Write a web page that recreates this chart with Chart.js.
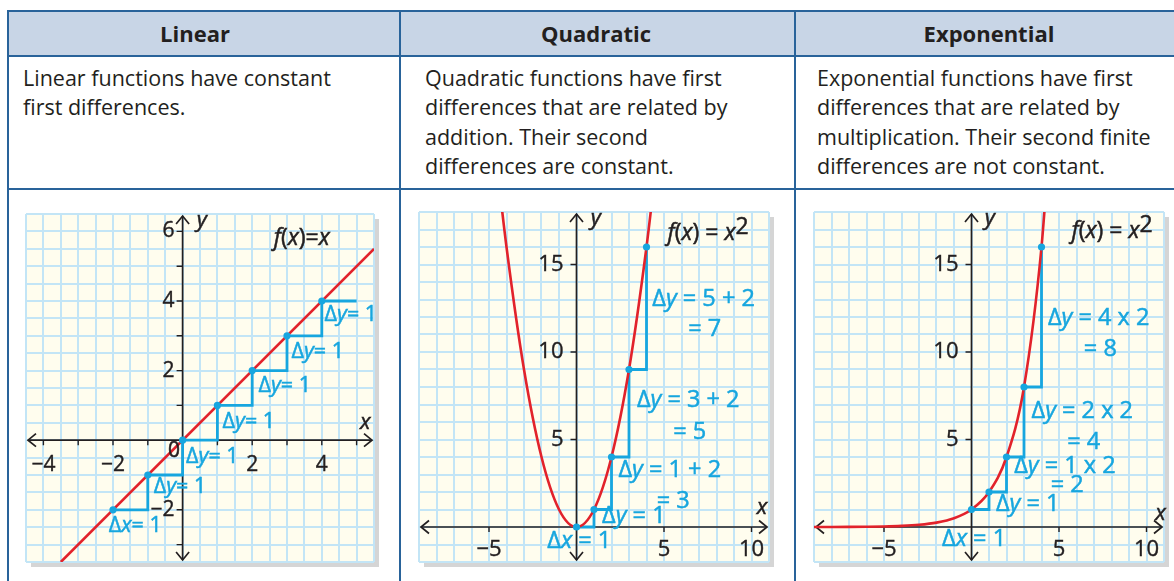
<!DOCTYPE html>
<html>
<head>
<meta charset="utf-8">
<script src="https://cdn.jsdelivr.net/npm/chart.js@4.4.1/dist/chart.umd.min.js"></script>
<style>
body { margin: 0; width: 1174px; height: 581px; overflow: hidden; background: #fff; position: relative;
       font-family: 'Open Sans', sans-serif; color: #231f20; }
.hl { position: absolute; left: 8px; width: 1180px; height: 2px; background: #29639a; }
.vl { position: absolute; top: 10px; width: 2px; height: 580px; background: #29639a; }
.head { position: absolute; top: 10px; left: 9px; width: 1180px; height: 46px; background: #c8d5e6; }
.tit { position: absolute; top: 18px; font-weight: 700; font-size: 22px; line-height: 30px; transform: translateX(-50%); white-space: nowrap; }
.desc { position: absolute; top: 63px; font-size: 21.5px; line-height: 29.4px; white-space: nowrap; }
canvas { position: absolute; }
</style>
</head>
<body>
<div class="head"></div>
<div class="hl" style="top:10px"></div>
<div class="hl" style="top:55px"></div>
<div class="hl" style="top:188px"></div>
<div class="vl" style="left:7px"></div>
<div class="vl" style="left:399px"></div>
<div class="vl" style="left:794px"></div>

<div class="tit" style="left:195px">Linear</div>
<div class="tit" style="left:596px">Quadratic</div>
<div class="tit" style="left:989px">Exponential</div>

<div class="desc" style="left:23px">Linear functions have constant<br>first differences.</div>
<div class="desc" style="left:425px">Quadratic functions have first<br>differences that are related by<br>addition. Their second<br>differences are constant.</div>
<div class="desc" style="left:817px">Exponential functions have first<br>differences that are related by<br>multiplication. Their second finite<br>differences are not constant.</div>

<canvas id="lineal" width="357" height="357" style="left:22px;top:210px"></canvas>
<canvas id="cuadratica" width="360" height="360" style="left:415px;top:208px"></canvas>
<canvas id="exponencial" width="360" height="360" style="left:810px;top:208px"></canvas>

<script>
// Datos: f(x) = x
const linX = [-3.5, 5.5];
const linY = [-3.5, 5.5];
const linStepX = [-2, -1, -1, 0, 0, 1, 1, 2, 2, 3, 3, 4, 4, 5];
const linStepY = [-2, -2, -1, -1, 0, 0, 1, 1, 2, 2, 3, 3, 4, 4];
const linDotX = [-2, -1, 0, 1, 2, 3, 4];
const linDotY = [-2, -1, 0, 1, 2, 3, 4];
const linXMarks = [-4, -3, -2, -1, 1, 2, 3, 4, 5];
const linYMarks = [-3, -2, -1, 1, 2, 3, 4, 5, 6];
const linXLabels = [-4, -2, 2, 4];
const linYLabels = [-2, 2, 4, 6];

// Datos: f(x) = x^2
const quadX = [-4.5, -4, -3, -2, -1, 0, 1, 2, 3, 4, 4.5];
const quadY = [20.25, 16, 9, 4, 1, 0, 1, 4, 9, 16, 20.25];
const quadStepX = [0, 1, 1, 2, 2, 3, 3, 4, 4];
const quadStepY = [0, 0, 1, 1, 4, 4, 9, 9, 16];
const quadDotX = [0, 1, 2, 3, 4];
const quadDotY = [0, 1, 4, 9, 16];

// Datos: curva exponencial
const expX = [-9, -8, -7, -6, -5, -4, -3, -2, -1, 0, 1, 2, 3, 4, 4.5];
const expY = [0.002, 0.004, 0.008, 0.016, 0.031, 0.063, 0.125, 0.25, 0.5, 1, 2, 4, 8, 16, 22.6];
const expStepX = [0, 1, 1, 2, 2, 3, 3, 4, 4];
const expStepY = [1, 1, 2, 2, 4, 4, 8, 8, 16];
const expDotX = [0, 1, 2, 3, 4];
const expDotY = [1, 2, 4, 8, 16];

// Marcas y etiquetas de los dos graficos grandes
const bigXMarks = [-5, 5, 10];
const bigYMarks = [5, 10, 15];
const bigXLabels = [-5, 5, 10];
const bigYLabels = [5, 10, 15];

const rojo = '#e2222b';
const azul = '#17a6df';
const tinta = '#231f20';
const fuente = '"Open Sans", sans-serif';

// Textos sobre el grafico: [texto, cursiva, desplazamiento vertical]
const D = ['\u0394', false];
const Y = ['y', true];
const X = ['x', true];
const fx = [['f', true], ['(', false], ['x', true], [')', false]];

const linNotes = [
  { x: 2.62, y: 5.8, size: 23, color: tinta, parts: [...fx, ['=', false], ['x', true]] },
  { x: 5.25, y: 0.5, size: 22, color: tinta, align: 'center', parts: [X] },
  { x: 0.55, y: 6.3, size: 22, color: tinta, align: 'center', parts: [Y] },
  { x: -0.25, y: -0.3, size: 21, color: tinta, align: 'center', parts: [['0', false]] },
  { x: 4.08, y: 3.6, size: 21.5, color: azul, parts: [D, Y, ['= 1', false]] },
  { x: 3.13, y: 2.55, size: 21.5, color: azul, parts: [D, Y, ['= 1', false]] },
  { x: 2.18, y: 1.57, size: 21.5, color: azul, parts: [D, Y, ['= 1', false]] },
  { x: 1.15, y: 0.52, size: 21.5, color: azul, parts: [D, Y, ['= 1', false]] },
  { x: 0.1, y: -0.48, size: 21.5, color: azul, parts: [D, Y, ['= 1', false]] },
  { x: -0.83, y: -1.35, size: 21.5, color: azul, parts: [D, Y, ['= 1', false]] },
  { x: -2.12, y: -2.45, size: 21.5, color: azul, parts: [D, X, ['= 1', false]] }
];

const quadNotes = [
  { x: 5.2, y: 16.8, size: 23, color: tinta, parts: [...fx, [' = ', false], ['x', true], ['2', false, -6]] },
  { x: 10.6, y: 1.1, size: 22, color: tinta, align: 'center', parts: [X] },
  { x: 1.1, y: 17.6, size: 22, color: tinta, align: 'center', parts: [Y] },
  { x: 4.33, y: 13.0, size: 23.5, color: azul, parts: [D, Y, [' = 5 + 2', false]] },
  { x: 6.38, y: 11.3, size: 23.5, color: azul, parts: [['= 7', false]] },
  { x: 3.45, y: 7.23, size: 23.5, color: azul, parts: [D, Y, [' = 3 + 2', false]] },
  { x: 5.53, y: 5.43, size: 23.5, color: azul, parts: [['= 5', false]] },
  { x: 2.4, y: 3.26, size: 23.5, color: azul, parts: [D, Y, [' = 1 + 2', false]] },
  { x: 4.58, y: 1.46, size: 23.5, color: azul, parts: [['= 3', false]] },
  { x: 1.46, y: 0.6, size: 23.5, color: azul, parts: [D, Y, [' = 1', false]] },
  { x: -1.67, y: -0.82, size: 23.5, color: azul, parts: [D, X, [' = 1', false]] }
];

const expNotes = [
  { x: 5.72, y: 16.9, size: 23, color: tinta, parts: [...fx, [' = ', false], ['x', true], ['2', false, -6]] },
  { x: 10.8, y: 0.74, size: 22, color: tinta, align: 'center', parts: [X] },
  { x: 1.04, y: 17.6, size: 22, color: tinta, align: 'center', parts: [Y] },
  { x: 4.37, y: 11.9, size: 23.5, color: azul, parts: [D, Y, [' = 4 x 2', false]] },
  { x: 6.42, y: 10.17, size: 23.5, color: azul, parts: [['= 8', false]] },
  { x: 3.43, y: 6.6, size: 23.5, color: azul, parts: [D, Y, [' = 2 x 2', false]] },
  { x: 5.47, y: 4.86, size: 23.5, color: azul, parts: [['= 4', false]] },
  { x: 2.44, y: 3.44, size: 23.5, color: azul, parts: [D, Y, [' = 1 x 2', false]] },
  { x: 4.53, y: 2.36, size: 23.5, color: azul, parts: [['= 2', false]] },
  { x: 1.4, y: 1.27, size: 23.5, color: azul, parts: [D, Y, [' = 1', false]] },
  { x: -1.68, y: -0.72, size: 23.5, color: azul, parts: [D, X, [' = 1', false]] }
];

// Configuracion de ejes de cada grafico (por id del canvas)
const ejes = {
  lineal: { xMarks: linXMarks, yMarks: linYMarks, xLabels: linXLabels, yLabels: linYLabels,
            size: 21, xGap: 25, yGap: 8, notes: linNotes },
  cuadratica: { xMarks: bigXMarks, yMarks: bigYMarks, xLabels: bigXLabels, yLabels: bigYLabels,
                size: 22, xGap: 23, yGap: 13, notes: quadNotes },
  exponencial: { xMarks: bigXMarks, yMarks: bigYMarks, xLabels: bigXLabels, yLabels: bigYLabels,
                 size: 22, xGap: 23, yGap: 13, notes: expNotes }
};

function etiqueta(v) {
  return v < 0 ? '\u2212' + Math.abs(v) : String(v);
}

// Texto con un trazo fino para que no quede tan delgado
function texto(ctx, t, x, y) {
  ctx.fillText(t, x, y);
  ctx.strokeText(t, x, y);
}

// Dibuja texto con partes en cursiva
function drawRich(ctx, parts, x, y, size, color, align) {
  const fonts = parts.map(p => (p[1] ? 'italic ' : '') + size + 'px ' + fuente);
  const widths = parts.map((p, i) => { ctx.font = fonts[i]; return ctx.measureText(p[0]).width; });
  const total = widths.reduce((a, b) => a + b, 0);
  let cx = align === 'center' ? x - total / 2 : x;
  ctx.fillStyle = color;
  ctx.strokeStyle = color;
  ctx.lineWidth = 0.5;
  ctx.textAlign = 'left';
  ctx.textBaseline = 'middle';
  parts.forEach((p, i) => {
    ctx.font = fonts[i];
    texto(ctx, p[0], cx, y + (p[2] || 0));
    cx += widths[i];
  });
}

function flecha(ctx, x, y, dx, dy) {
  const s = 8, w = 6.5;
  ctx.beginPath();
  ctx.moveTo(x - dx * s - dy * w, y - dy * s + dx * w);
  ctx.lineTo(x, y);
  ctx.lineTo(x - dx * s + dy * w, y - dy * s - dx * w);
  ctx.stroke();
}

const ejesPlugin = {
  id: 'ejes',
  beforeDraw(chart) {
    const { ctx, chartArea: a } = chart;
    ctx.save();
    ctx.fillStyle = '#d5d5d5';
    ctx.fillRect(a.left + 5, a.top + 5, a.right - a.left, a.bottom - a.top);
    ctx.fillStyle = '#fffdee';
    ctx.fillRect(a.left, a.top, a.right - a.left, a.bottom - a.top);
    ctx.restore();
  },
  beforeDatasetsDraw(chart) {
    const cfg = ejes[chart.canvas.id];
    const { ctx, chartArea: a } = chart;
    const sx = chart.scales.x, sy = chart.scales.y;
    const x0 = sx.getPixelForValue(0), y0 = sy.getPixelForValue(0);
    ctx.save();
    ctx.strokeStyle = tinta;
    ctx.lineWidth = 1.7;
    ctx.beginPath();
    ctx.moveTo(a.left + 2, y0); ctx.lineTo(a.right - 2, y0);
    ctx.moveTo(x0, a.top + 2); ctx.lineTo(x0, a.bottom - 2);
    ctx.stroke();
    flecha(ctx, a.left + 2, y0, -1, 0);
    flecha(ctx, a.right - 2, y0, 1, 0);
    flecha(ctx, x0, a.top + 2, 0, -1);
    flecha(ctx, x0, a.bottom - 2, 0, 1);
    ctx.lineWidth = 1.4;
    ctx.beginPath();
    cfg.xMarks.forEach(v => { const p = sx.getPixelForValue(v); ctx.moveTo(p, y0); ctx.lineTo(p, y0 + 5); });
    cfg.yMarks.forEach(v => { const p = sy.getPixelForValue(v); ctx.moveTo(x0, p); ctx.lineTo(x0 - 6, p); });
    ctx.stroke();
    ctx.fillStyle = tinta;
    ctx.lineWidth = 0.4;
    ctx.font = cfg.size + 'px ' + fuente;
    ctx.textBaseline = 'middle';
    ctx.textAlign = 'center';
    cfg.xLabels.forEach(v => texto(ctx, etiqueta(v), sx.getPixelForValue(v), y0 + cfg.xGap));
    ctx.textAlign = 'right';
    cfg.yLabels.forEach(v => texto(ctx, etiqueta(v), x0 - cfg.yGap, sy.getPixelForValue(v)));
    ctx.restore();
  },
  afterDatasetsDraw(chart) {
    const cfg = ejes[chart.canvas.id];
    const { ctx } = chart;
    const sx = chart.scales.x, sy = chart.scales.y;
    ctx.save();
    cfg.notes.forEach(n => {
      drawRich(ctx, n.parts, sx.getPixelForValue(n.x), sy.getPixelForValue(n.y), n.size, n.color, n.align);
    });
    ctx.restore();
  }
};
Chart.register(ejesPlugin);

function puntos(xs, ys) {
  return xs.map((x, i) => ({ x: x, y: ys[i] }));
}

function escala(min, max, step) {
  return {
    type: 'linear', min: min, max: max,
    ticks: { display: false, stepSize: step },
    grid: { color: '#c3e5f6', lineWidth: 2, drawTicks: false },
    border: { display: false }
  };
}

// Crea un grafico con curva, escalones y puntos
function crearGrafico(id, curva, escalones, marcas, xr, yr, step, suave, pad) {
  const ctx = document.getElementById(id).getContext('2d');
  return new Chart(ctx, {
    type: 'scatter',
    data: {
      datasets: [
        { data: marcas, showLine: false, pointRadius: 3.6, pointBackgroundColor: azul, pointBorderWidth: 0 },
        { data: curva, showLine: true, borderColor: rojo, borderWidth: 2.6, pointRadius: 0,
          cubicInterpolationMode: suave ? 'monotone' : 'default', tension: 0 },
        { data: escalones, showLine: true, borderColor: azul, borderWidth: 2.8, pointRadius: 0, tension: 0 }
      ]
    },
    options: {
      responsive: false,
      animation: false,
      devicePixelRatio: 1,
      layout: { padding: pad },
      plugins: { legend: { display: false }, tooltip: { enabled: false } },
      scales: { x: escala(xr[0], xr[1], step), y: escala(yr[0], yr[1], step) }
    }
  });
}

crearGrafico('lineal', puntos(linX, linY), puntos(linStepX, linStepY), puntos(linDotX, linDotY),
  [-4.5, 5.5], [-3.5, 6.5], 0.5, false, { left: 2, top: 2, right: 5, bottom: 5 });
crearGrafico('cuadratica', puntos(quadX, quadY), puntos(quadStepX, quadStepY), puntos(quadDotX, quadDotY),
  [-9, 11], [-2, 18], 1, true, { left: 2, top: 2, right: 6, bottom: 6 });
crearGrafico('exponencial', puntos(expX, expY), puntos(expStepX, expStepY), puntos(expDotX, expDotY),
  [-9, 11], [-2, 18], 1, true, { left: 2, top: 2, right: 6, bottom: 6 });
</script>
</body>
</html>
